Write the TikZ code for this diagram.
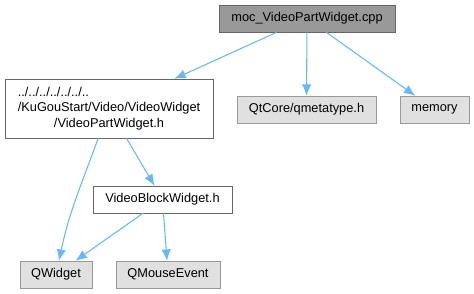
\documentclass[tikz,border=0pt]{standalone}
\usepackage{fontspec}
\setmainfont{Liberation Sans}
\usepackage{xcolor}
\usetikzlibrary{positioning, arrows.meta}

\definecolor{edgeblue}{HTML}{63B8FF}
\definecolor{rootfill}{HTML}{999999}
\definecolor{darkline}{HTML}{666666}
\definecolor{sysfill}{HTML}{E0E0E0}
\definecolor{sysline}{HTML}{999999}

\begin{document}
\begin{tikzpicture}[x=0.75pt, y=-0.75pt,
        every node/.style={font=\fontsize{9.6}{11.6}\selectfont, inner sep=0pt},
        filebox/.style={rectangle, draw=darkline, fill=white, minimum height=20.25pt},
        rootbox/.style={rectangle, draw=darkline, fill=rootfill, minimum height=20.25pt},
        sysbox/.style={rectangle, draw=sysline, fill=sysfill, minimum height=20.25pt},
        incl/.style={draw=edgeblue, line width=0.8pt, -{Latex[length=8.5pt, width=7pt]}}]
        \useasboundingbox (0,0) rectangle (474,293);
        \node[rootbox, minimum width=132pt] (moc) at (307,18.5) {moc\_VideoPartWidget.cpp};
        \node[filebox, minimum width=156pt, minimum height=44.25pt, align=center] (partw) at (109,108.5)
            {\rlap{../../../../../../..}\phantom{/KuGouStart/Video/VideoWidget}\\/KuGouStart/Video/VideoWidget\\/VideoPartWidget.h};
        \node[sysbox, minimum width=104.25pt] (qmeta) at (306.5,109.5) {QtCore/qmetatype.h};
        \node[sysbox, minimum width=51.75pt] (memory) at (434.5,109.5) {memory};
        \node[filebox, minimum width=104.25pt] (blockw) at (162.5,199.5) {VideoBlockWidget.h};
        \node[sysbox, minimum width=54pt] (qwidget) at (56,274.5) {QWidget};
        \node[sysbox, minimum width=78pt] (qmouse) at (168,274.5) {QMouseEvent};
        % Include edges
        \draw[incl] (moc) -- (partw);
        \draw[incl] (moc) -- (qmeta);
        \draw[incl] (moc) -- (memory);
        \draw[incl] (partw) to[out=-110, in=78] (qwidget);
        \draw[incl] (partw) -- (blockw);
        \draw[incl] (blockw) -- (qwidget);
        \draw[incl] (blockw) -- (qmouse);
    \end{tikzpicture}
\end{document}
